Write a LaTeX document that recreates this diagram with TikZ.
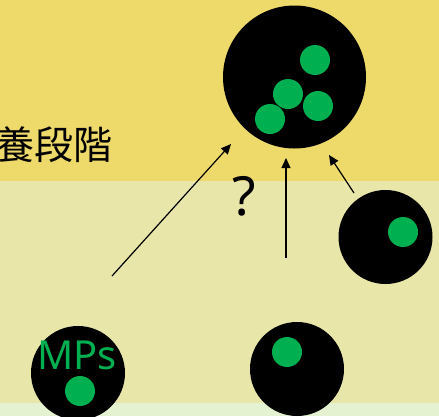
\documentclass[tikz,border=0pt]{standalone}
\usepackage{fontspec}
\setmainfont{Noto Sans}
\newfontfamily\cjkfont{Noto Sans CJK JP}
\usetikzlibrary{arrows.meta}
\definecolor{bandtop}{HTML}{EED96B}
\definecolor{bandmid}{HTML}{E8E6A9}
\definecolor{bandlow}{HTML}{E4F2D2}
\definecolor{mpgreen}{HTML}{00B050}
\begin{document}
\begin{tikzpicture}[x=1pt,y=-1pt,
  cell/.style={circle,fill=black,inner sep=0pt,minimum size=#1},
  dot/.style={circle,fill=mpgreen,inner sep=0pt,minimum size=30pt},
  link/.style={line width=1.2pt,-{Triangle[length=10pt,width=9pt]}}]
\useasboundingbox (0,0) rectangle (439,416);
\clip (0,0) rectangle (439,416);
% background bands
\fill[bandtop] (0,0) rectangle (439,181);
\fill[bandmid] (0,181) rectangle (439,403);
\fill[bandlow] (0,403) rectangle (439,416);
% stage label, running off the left edge
\node[anchor=east,inner sep=0pt,font=\cjkfont\fontsize{39}{42}\selectfont] (stage) at (113,145) {養段階};
% large cell with several particles
\node[cell=143pt] (big) at (294.5,77) {};
\node[dot] (b1) at (315,60) {};
\node[dot] (b2) at (288,94) {};
\node[dot] (b3) at (318,106) {};
\node[dot] (b4) at (270,119) {};
% right cell
\node[cell=94pt] (right) at (385.5,237) {};
\node[dot] (r1) at (403,232) {};
% bottom middle cell
\node[cell=94pt] (mid) at (297,369) {};
\node[dot] (m1) at (287,352) {};
% bottom left cell (MPs)
\node[cell=94pt] (mps) at (78,373) {};
\node[dot] (p1) at (80,391) {};
\node[font=\fontsize{40}{44}\selectfont,text=mpgreen,inner sep=0pt] (mpslabel) at (77,355) {MPs};
% question mark
\node[font=\fontsize{54}{58}\selectfont,inner sep=0pt] (q) at (244,196) {?};
% arrows
\coordinate (a1s) at (112,276);
\coordinate (a1e) at (231,144);
\coordinate (a2s) at (286,258);
\coordinate (a2e) at (286,158);
\coordinate (a3s) at (354,193);
\coordinate (a3e) at (329,155);
\draw[link] (a1s) -- (a1e);
\draw[link] (a2s) -- (a2e);
\draw[link] (a3s) -- (a3e);
\end{tikzpicture}
\end{document}
